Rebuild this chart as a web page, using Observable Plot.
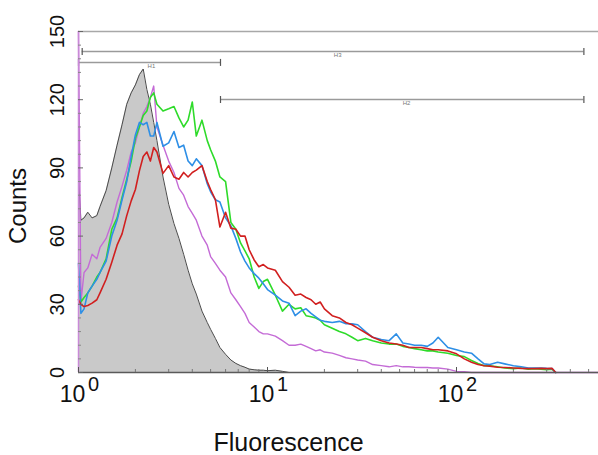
<!DOCTYPE html>
<html><head><meta charset="utf-8">
<script src="https://cdn.jsdelivr.net/npm/d3@7"></script>
<script src="https://cdn.jsdelivr.net/npm/@observablehq/plot@0.6"></script>
<style>
html,body{margin:0;padding:0;background:#fff;}
#chart svg{display:block;}
</style></head><body><div id="chart"></div>
<script>
// channel positions (fluorescence, log scale)
const fluorescence = [1.0, 1.03, 1.07, 1.12, 1.18, 1.25, 1.3, 1.4, 1.5, 1.6, 1.7, 1.8, 1.9, 2.0, 2.1, 2.2, 2.3, 2.4, 2.5, 2.6,
  2.8, 3.0, 3.2, 3.4, 3.6, 3.8, 4.0, 4.2, 4.5, 4.8, 5.0, 5.3, 5.6, 6.0, 6.4, 6.8, 7.2, 7.6, 8, 8.5, 9, 9.5,
  10, 11, 12, 13, 14, 15, 16, 17, 18, 19, 20, 22, 24, 26, 28, 30, 33, 36, 40, 44, 48, 52, 56, 60, 65, 70, 75, 80, 90,
  100, 110, 120, 130, 140, 150, 165, 180, 200, 220, 240, 260, 280, 300, 320, 335, 564];
// grey filled control histogram
const control = [86, 67, 68, 70.5, 68, 69, 73, 80, 90, 100, 109, 118, 123, 126.5, 131, 133.5, 124.5, 118, 110, 102,
  86, 74, 65.5, 59, 52, 45, 39, 34.5, 27, 22, 19, 15, 11, 8, 5.5, 4, 3, 2.3, 1.5, 1.2, 1, 1,
  0.8, 1, 0.5, 0, 0, 0, 0, 0, 0, 0, 0, 0, 0, 0, 0, 0, 0, 0, 0, 0, 0, 0, 0, 0, 0, 0, 0, 0, 0,
  0, 0, 0, 0, 0, 0, 0, 0, 0, 0, 0, 0, 0, 0, 0, 0, 0];
const violet = [150, 31, 44, 46, 52, 50, 55, 59, 66, 75, 82, 89, 97, 101, 108, 114, 117, 121, 126, 108,
  100, 93, 88, 81, 78, 73, 70, 67, 60, 56, 51, 48, 45, 42, 35, 32, 29, 26, 22, 20, 18, 17,
  17, 16, 14, 12, 12, 12.5, 11.5, 10.5, 9.5, 10, 9, 8.5, 7.5, 6.5, 6, 5.5, 5, 3.5, 3, 2.5, 3, 2.5, 2.5, 2.3, 2.2, 2.2, 2, 2, 1.5,
  0.5, 0.3, 0, 0, 0, 0, 0, 0, 0, 0, 0, 0, 0, 0, 0, 0, 0];
const green = [38, 31, 33, 35, 38, 42, 44, 50, 63, 68, 77, 85, 93, 103, 108, 113, 115, 121, 123, 118,
  115, 116, 117, 112, 108, 111, 119, 104, 111, 102, 98, 93, 86, 84, 66, 63, 57, 53.5, 50, 42, 37, 40,
  41, 34, 27, 30, 28, 28.5, 25, 24.5, 24, 23, 21, 19.5, 18, 17, 15.5, 14, 15, 14, 13, 12.5, 12.5, 11.5, 11, 10.5, 10, 9.5, 9.5, 9, 8.5,
  7.5, 7, 5.3, 4, 3, 3, 2.5, 2, 1.7, 2, 1.5, 1.7, 1.5, 1.2, 1.5, 0, null];
const blue = [48, 26, 28, 35, 38, 41, 44, 49, 60, 67, 76, 84, 95, 104.5, 110, 109, 110, 104, 104, 110,
  99.5, 101, 106, 99, 100, 93, 91, 94, 91, 83, 79.5, 76, 75, 68, 64.5, 59, 53, 49, 46, 43.5, 41.5, 39,
  36.5, 34, 31.5, 30.5, 25, 27, 28, 26, 24.5, 23, 22.5, 22, 22.5, 21.5, 21.4, 21, 18, 15.5, 14.5, 14, 17, 13, 12.5, 12, 12, 11.5, 13, 15.5, 11,
  10, 9, 8.5, 6, 3.8, 3.5, 4.5, 3.8, 3, 2.5, 2, 2, 2, 1.8, 1.7, 0, null];
const red = [32, 30, 29, 29.5, 30.5, 32, 35, 41, 48.5, 56, 61, 69, 75.5, 80.5, 88.7, 95, 97, 93, 99, 97,
  87.6, 91, 86, 85, 88, 86, 88, 89, 91, 84, 80.5, 76, 64, 70.5, 63.5, 63, 60, 60, 54, 49.5, 46.5, 47.5,
  46, 45, 40, 37.5, 34, 34.5, 33, 32, 30, 31, 28, 25, 24, 22, 21, 19.5, 17.5, 15.5, 14, 13, 12.5, 12, 11, 11, 11, 10.5, 10, 10, 9.5,
  8.2, 6, 4.5, 3.5, 3, 2.8, 2.3, 2.2, 2, 1.8, 1.7, 1.7, 1.8, 1.7, 1.8, 0, null];

// axes
const yTicks = [0, 30, 60, 90, 120, 150];
const yMinorTicks = [6, 12, 18, 24, 36, 42, 48, 54, 66, 72, 78, 84, 96, 102, 108, 114, 126, 132, 138, 144];
const xTicks = [1, 10, 100];
const xBase = ["10", "10", "10"];
const xExponents = ["0", "1", "2"];
const xMinorTicks = [2, 3, 4, 5, 6, 7, 8, 9, 20, 30, 40, 50, 60, 70, 80, 90, 200, 300, 400, 500];
const xLabel = "Fluorescence";
const yLabel = "Counts";

// gates
const gateNames = ["H1", "H2", "H3"];
const gateStart = [1.0, 5.64, 1.046];
const gateEnd = [5.64, 472, 472];
const gateLevel = [136.4, 120.1, 141.2];
const gateLabelAt = [2.43, 54.4, 23.5];

const rows = fluorescence.map((x, i) => ({x, control: control[i], violet: violet[i], green: green[i], blue: blue[i], red: red[i]}));
const gates = gateNames.map((name, i) => ({name, x1: gateStart[i], x2: gateEnd[i], y: gateLevel[i], lx: gateLabelAt[i]}));
const gateEnds = gates.flatMap(g => [{x: g.x1, y: g.y}, {x: g.x2, y: g.y}]);
const tickSymbol = {draw(ctx, size) { const h = Math.sqrt(size / Math.PI); ctx.moveTo(0, -h); ctx.lineTo(0, h); }};

const txt = {textAnchor: "middle", lineAnchor: "middle", fill: "#111"};

const chart = Plot.plot({
  width: 598, height: 455,
  marginTop: 31, marginLeft: 78, marginRight: 0, marginBottom: 83,
  x: {type: "log", domain: [1, 564], axis: null},
  y: {domain: [0, 150], axis: null},
  style: {fontFamily: "'Liberation Sans', Arial, Helvetica, sans-serif", background: "#fff"},
  marks: [
    Plot.areaY(rows, {x: "x", y: "control", fill: "#c9c9c9"}),
    Plot.line(rows, {x: "x", y: "control", stroke: "#4a4a4a", strokeWidth: 1}),
    Plot.ruleY([150], {stroke: "#a8a8a8", strokeWidth: 1.5}),
    Plot.ruleY(gates, {y: "y", x1: "x1", x2: "x2", stroke: "#9a9a9a", strokeWidth: 1.5}),
    Plot.dot(gateEnds, {x: "x", y: "y", symbol: tickSymbol, r: 3.5, fill: "none", stroke: "#555", strokeWidth: 1.2}),
    Plot.text(gates, {x: "lx", y: "y", text: "name", dy: 4, fontSize: 6, textAnchor: "middle", fill: "#777"}),
    Plot.line(rows, {x: "x", y: "violet", stroke: "#c46bd6", strokeWidth: 1.4}),
    Plot.line(rows, {x: "x", y: "green", stroke: "#2edb2a", strokeWidth: 1.6}),
    Plot.line(rows, {x: "x", y: "blue", stroke: "#2e8fe6", strokeWidth: 1.6}),
    Plot.line(rows, {x: "x", y: "red", stroke: "#d11f1f", strokeWidth: 1.6}),
    Plot.ruleY([0], {stroke: "#5a5a5a", strokeWidth: 1.5}),
    Plot.ruleX([1], {stroke: "#c98ad8", strokeWidth: 1.5}),
    Plot.ruleX(xMinorTicks, {insetTop: 338, stroke: "#777"}),
    Plot.ruleX(xTicks, {insetTop: 336, stroke: "#555"}),
    Plot.ruleY(yMinorTicks, {insetRight: 517, stroke: "#888"}),
    Plot.ruleY(yTicks, {insetRight: 515, stroke: "#666"}),
    Plot.text(yTicks, {y: d => d, text: d => String(d), frameAnchor: "left", dx: -21, rotate: -90, fontSize: 20, ...txt}),
    Plot.text(xTicks, {x: d => d, text: (d, i) => xBase[i], frameAnchor: "bottom", dx: -6, dy: 22, fontSize: 23, ...txt}),
    Plot.text(xTicks, {x: d => d, text: (d, i) => xExponents[i], frameAnchor: "bottom", dx: 15, dy: 12, fontSize: 20, ...txt}),
    Plot.text([xLabel], {text: d => d, frameAnchor: "bottom", dx: -50, dy: 70, fontSize: 25, ...txt}),
    Plot.text([yLabel], {text: d => d, frameAnchor: "left", dx: -60, dy: 4, rotate: -90, fontSize: 24, ...txt})
  ]
});
document.getElementById("chart").append(chart);
</script></body></html>
